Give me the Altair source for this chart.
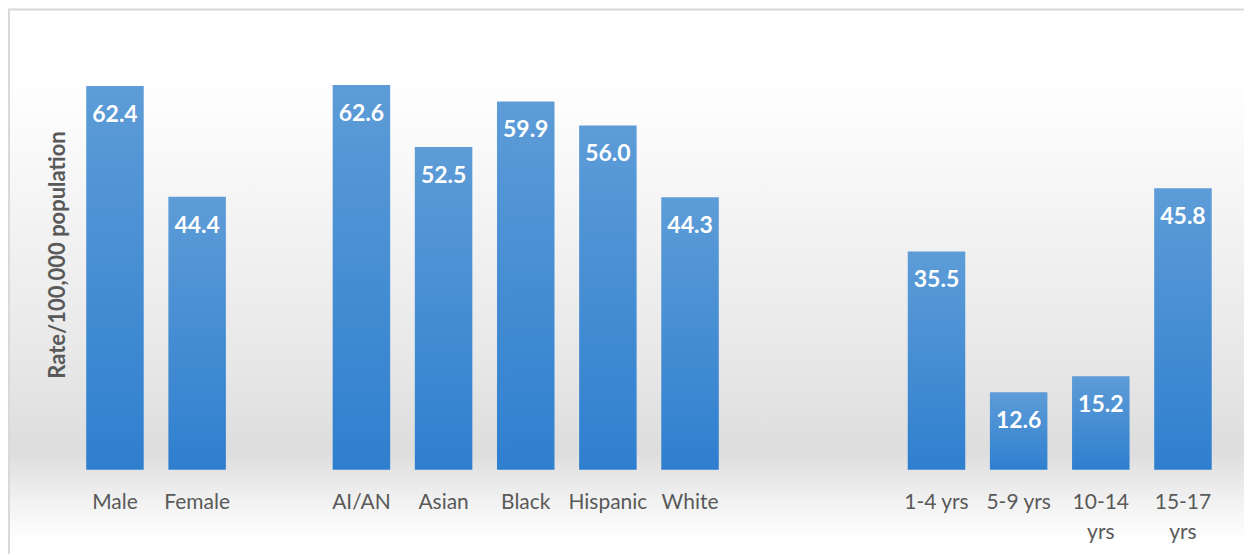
import altair as alt
import pandas as pd

# Data
categories = ["Male", "Female", "AI/AN", "Asian", "Black", "Hispanic", "White",
              "1-4 yrs", "5-9 yrs", "10-14 yrs", "15-17 yrs"]
rates = [62.4, 44.4, 62.6, 52.5, 59.9, 56.0, 44.3, 35.5, 12.6, 15.2, 45.8]
# axis slots including blank gaps between groups
x_domain = ["Male", "Female", " ", "AI/AN", "Asian", "Black", "Hispanic", "White",
            "  ", "   ", "1-4 yrs", "5-9 yrs", "10-14 yrs", "15-17 yrs"]

df = pd.DataFrame({"category": categories, "rate": rates})
df["label"] = [f"{v:.1f}" for v in rates]

W, H = 1152, 431
FONT = "Lato"

x_enc = alt.X("category:N", scale=alt.Scale(domain=x_domain, paddingInner=0.3, paddingOuter=0.15),
              sort=x_domain,
              axis=alt.Axis(title=None, domain=False, ticks=False, labelAngle=0, zindex=2,
                            labelFont=FONT, labelFontSize=21, labelColor="#595959",
                            labelPadding=22, labelLineHeight=30,
                            labelExpr="length(datum.value) > 8 ? split(datum.value, ' ') : datum.value"))
y_enc = alt.Y("rate:Q", scale=alt.Scale(domain=[0, 70], nice=False),
              axis=alt.Axis(title="Rate/100,000 population", labels=False, ticks=False, zindex=2,
                            domain=False, grid=False, titleFont=FONT, titleFontSize=22,
                            titleFontWeight="bold", titleColor="#595959", titlePadding=4))

bg = alt.Chart(pd.DataFrame({"a": [0]})).mark_rect(
    stroke="#d9d9d9", strokeWidth=2,
    fill=alt.Gradient(gradient="linear", x1=0, y1=0, x2=0, y2=1, stops=[
        alt.GradientStop(offset=0.0, color="#ffffff"),
        alt.GradientStop(offset=0.12, color="#ffffff"),
        alt.GradientStop(offset=0.38, color="#f3f3f3"),
        alt.GradientStop(offset=0.62, color="#e8e8e8"),
        alt.GradientStop(offset=0.79, color="#dddddd"),
        alt.GradientStop(offset=0.88, color="#f2f2f2"),
        alt.GradientStop(offset=0.95, color="#ffffff"),
        alt.GradientStop(offset=1.0, color="#ffffff"),
    ]),
    clip=False,
).encode(x=alt.value(-65), x2=alt.value(W + 60), y=alt.value(-30), y2=alt.value(H + 100))

bars = alt.Chart(df).mark_bar(
    fill=alt.Gradient(gradient="linear", x1=0, y1=0, x2=0, y2=1, stops=[
        alt.GradientStop(offset=0, color="#5d9cd7"),
        alt.GradientStop(offset=1, color="#2f7fcf"),
    ]),
).encode(x=x_enc, y=y_enc)

labels = alt.Chart(df).mark_text(
    font=FONT, fontSize=23, fontWeight="bold", color="white", baseline="middle", dy=29
).encode(x=alt.X("category:N", sort=x_domain), y="rate:Q", text="label:N")

chart = alt.layer(bg, bars, labels).properties(
    width=W, height=H,
    autosize=alt.AutoSizeParams(type="none"),
    padding={"left": 66, "top": 31, "right": 20, "bottom": 84},
).configure_view(stroke=None).configure(background="white")

chart.save("out.html", embed_options={"renderer": "svg", "actions": False})
